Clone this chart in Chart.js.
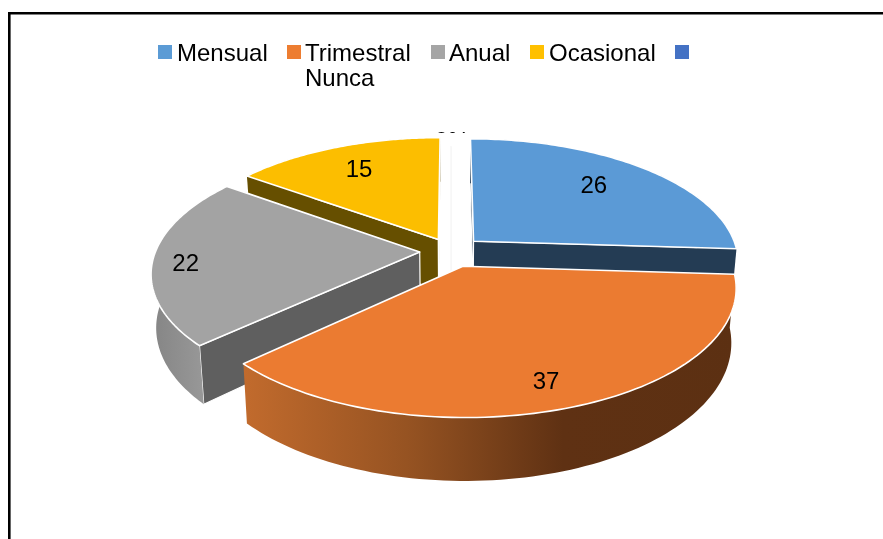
<!DOCTYPE html>
<html><head><meta charset="utf-8">
<style>html,body{margin:0;padding:0;background:#fff}canvas{display:block}</style>
<script src="https://cdn.jsdelivr.net/npm/chart.js@4"></script>
</head><body>
<canvas id="c" width="883" height="539"></canvas>
<script>
const categories = ["Mensual","Trimestral","Anual","Ocasional","Nunca"];
const values = [26,37,22,15,0];
const colors = ["#5b9bd5","#ed7d31","#a5a5a5","#ffc000","#4472c4"];
const topColors = ["#5b9ad6","#eb7b31","#a3a3a3","#fcbe00","#ffffff"];
const sideColors = ["#243c54","#6a3518","#5f5f5f","#664f00","#ffffff"];
const explode = [30,33,30,27,0];
const drawOrder = [4,3,0,2,1];
const labelRho = [0.727,0.827,0.876,0.754];
const labelAngleDeg = [44.2,161.4,264.6,333];

const view = {cx:451,cy:251,A:121.7,B:264,p:0.16,H:52,k:0.983};
const wallShades = {
  1:[[242,"#c26b2d"],[407,"#965322"],[563,"#5f3113"],[740,"#5c3012"]],
  2:[[152,"#858585"],[204,"#989898"]],
  0:[[470,"#243c54"],[740,"#243c54"]],
  3:[[240,"#664f00"],[440,"#664f00"]]
};
const legendBoxes = [[158,45],[287,45],[431,45],[530,45],[675,45]];
const legendTexts = [[177,61],[305,61],[449,61],[549,61],[305,86]];

function project(X,Y,bottom){
  const v=view, d=1-v.p*Y;
  let x=v.cx+v.B*X/d, y=v.cy+v.A*Y/d;
  if(bottom){ y+=v.H/d; x=v.cx+(x-v.cx)*v.k; }
  return [x,y];
}
function path(ctx,pts){
  ctx.beginPath();
  pts.forEach((p,i)=> i?ctx.lineTo(p[0],p[1]):ctx.moveTo(p[0],p[1]));
  ctx.closePath();
}
function faces(X0,Y0,nx,ny){
  return (0-X0)*nx+(1/view.p-Y0)*ny>0;
}
function drawSlice(ctx,el,i){
  const R=el.outerRadius, a0=el.startAngle, a1=el.endAngle, mid=(a0+a1)/2;
  const e=(el.options.offset||0)/R;
  const X0=e*Math.cos(mid), Y0=e*Math.sin(mid);
  const top=[],bot=[],N=90;
  for(let k=0;k<=N;k++){
    const a=a0+(a1-a0)*k/N;
    top.push(project(X0+Math.cos(a),Y0+Math.sin(a),false));
    bot.push(project(X0+Math.cos(a),Y0+Math.sin(a),true));
  }
  const ap=project(X0,Y0,false), apB=project(X0,Y0,true);
  ctx.lineJoin="round";
  if(values[i]===0){
    ctx.strokeStyle="#f6f6f6";ctx.lineWidth=1;
    path(ctx,[ap,top[0]]);ctx.stroke();
    path(ctx,[ap,apB]);ctx.stroke();
    return;
  }
  ctx.strokeStyle="#ffffff";ctx.lineWidth=1.2;
  // radial cut faces, only the ones turned towards the viewer
  if(faces(X0,Y0,Math.sin(a0),-Math.cos(a0))){
    path(ctx,[ap,top[0],bot[0],apB]);ctx.fillStyle=sideColors[i];ctx.fill();ctx.stroke();
  }
  if(faces(X0,Y0,-Math.sin(a1),Math.cos(a1))){
    path(ctx,[ap,top[N],bot[N],apB]);ctx.fillStyle=sideColors[i];ctx.fill();ctx.stroke();
  }
  // rim wall
  const sh=wallShades[i], x0=sh[0][0], x1=sh[sh.length-1][0];
  const g=ctx.createLinearGradient(x0,0,x1,0);
  sh.forEach(s=>g.addColorStop((s[0]-x0)/(x1-x0),s[1]));
  path(ctx,top.concat(bot.slice().reverse()));
  ctx.fillStyle=g;ctx.fill();
  // top face
  path(ctx,[ap].concat(top));
  ctx.fillStyle=topColors[i];ctx.fill();
  ctx.lineWidth=1.6;ctx.stroke();
}
const pie3d={
  id:"pie3d",
  beforeDatasetDraw(){return false;},
  afterDatasetsDraw(chart){
    const ctx=chart.ctx, arcs=chart.getDatasetMeta(0).data;
    ctx.save();
    ctx.strokeStyle="#000";ctx.lineWidth=2.6;
    ctx.beginPath();ctx.moveTo(9.3,539);ctx.lineTo(9.3,13.3);ctx.lineTo(883,13.3);ctx.stroke();
    drawOrder.forEach(i=>drawSlice(ctx,arcs[i],i));
    // data labels
    ctx.fillStyle="#000";ctx.font='24px "Liberation Sans"';ctx.textAlign="center";ctx.textBaseline="alphabetic";
    labelRho.forEach((rho,i)=>{
      const el=arcs[i],mid=(el.startAngle+el.endAngle)/2,e=el.options.offset/el.outerRadius;
      const a=(labelAngleDeg[i]-90)*Math.PI/180;
      const [x,y]=project(e*Math.cos(mid)+rho*Math.cos(a),e*Math.sin(mid)+rho*Math.sin(a),false);
      ctx.fillText(String(values[i]),x,y+9);
    });
    // the zero label is almost hidden, only its top edge shows
    ctx.save();
    ctx.beginPath();ctx.rect(420,120,60,13);ctx.clip();
    ctx.fillText(values[4]+"%",452,148.5);
    ctx.restore();
    // legend
    ctx.textAlign="left";
    categories.forEach((c,i)=>{
      ctx.fillStyle=colors[i];ctx.fillRect(legendBoxes[i][0],legendBoxes[i][1],14,14);
      ctx.fillStyle="#000";ctx.fillText(c,legendTexts[i][0],legendTexts[i][1]);
    });
    ctx.restore();
  }
};
new Chart(document.getElementById("c"),{
  type:"pie",
  data:{labels:categories,datasets:[{data:values,backgroundColor:colors,offset:explode,borderWidth:0}]},
  options:{responsive:false,animation:false,rotation:0,
    layout:{padding:0},
    plugins:{legend:{display:false},tooltip:{enabled:false}}},
  plugins:[pie3d]
});
</script>
</body></html>
